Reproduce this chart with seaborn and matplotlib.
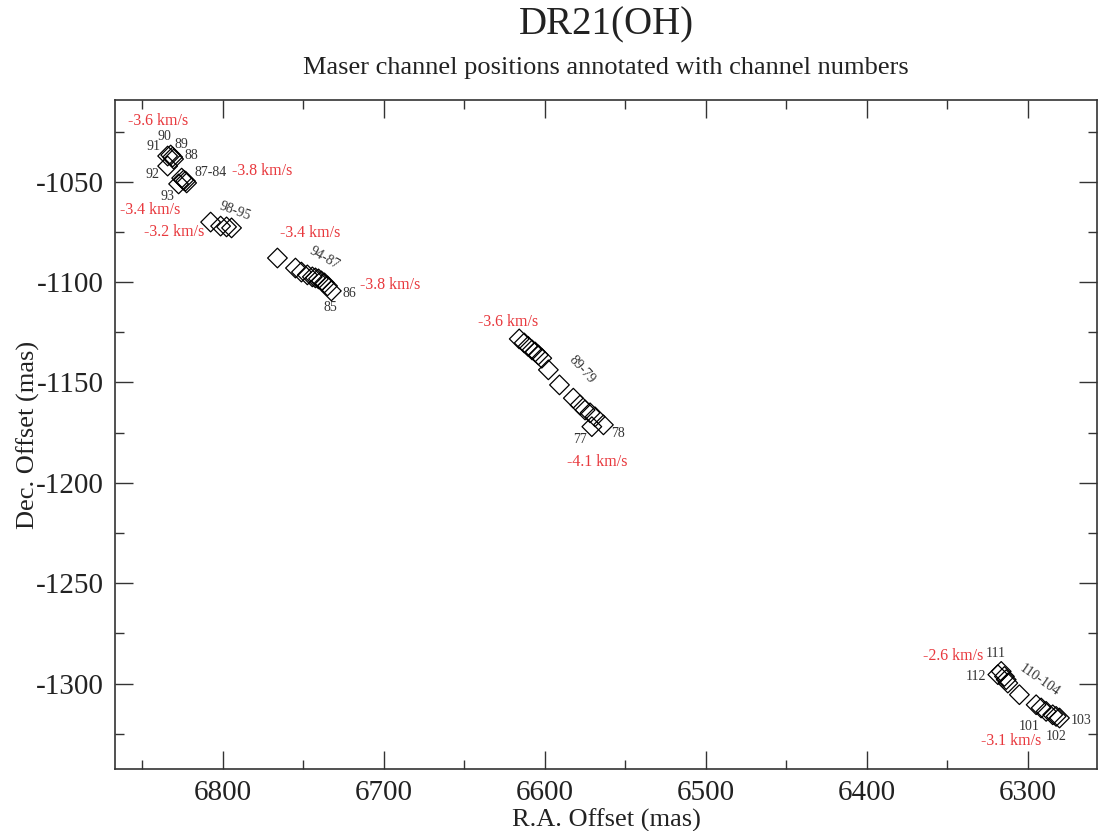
import matplotlib
matplotlib.use("Agg")
import matplotlib.pyplot as plt
import seaborn as sns
import pandas as pd
from matplotlib.ticker import MultipleLocator

# maser spot positions (mas), grouped by cluster
ra_offset = [
    6832.4, 6834.3, 6831.2, 6830.6, 6834.3,                     # ch 88-92
    6825.6, 6824.4, 6823.2, 6822.5, 6827.5,                     # ch 84-87, 93
    6807.6, 6801.4, 6797.7, 6794.6,                             # ch 95-98
    6766.1, 6754.9, 6751.2, 6747.5, 6744.4, 6742.5, 6740.6,
    6738.8, 6736.9, 6735.0, 6732.6,                             # ch 94-85
    6615.9, 6612.8, 6610.4, 6607.9, 6606.0, 6604.0, 6601.9,
    6597.8, 6590.9, 6582.3, 6578.1, 6575.0, 6571.9, 6568.8,
    6563.6, 6570.8,                                             # ch 89-77
    6316.5, 6318.6, 6314.5, 6313.4, 6312.4, 6305.2, 6294.8,
    6291.7, 6288.6, 6284.5, 6282.4, 6280.3,                     # ch 112-101
]
dec_offset = [
    -1036.7, -1037.2, -1037.7, -1038.7, -1042.2,
    -1048.2, -1049.2, -1049.7, -1050.6, -1051.1,
    -1070.1, -1072.1, -1072.5, -1073.0,
    -1088.0, -1093.0, -1095.0, -1096.4, -1097.4, -1097.9, -1098.4,
    -1099.4, -1100.4, -1101.9, -1104.4,
    -1128.3, -1130.3, -1132.0, -1133.8, -1134.8, -1136.3, -1137.9,
    -1143.7, -1151.2, -1157.8, -1161.2, -1163.7, -1165.1, -1167.1,
    -1171.1, -1172.0,
    -1293.9, -1295.5, -1296.4, -1298.0, -1299.7, -1305.5, -1310.5,
    -1312.1, -1313.8, -1315.5, -1316.3, -1317.1,
]

# channel-number annotations: text, ra, dec, rotation
chan_text = ["90", "91", "89", "88", "92", "87-84", "93", "98-95",
             "94-87", "86", "85", "89-79", "77", "78",
             "111", "112", "110-104", "101", "102", "103"]
chan_ra = [6836.6, 6842.8, 6825.8, 6819.6, 6843.8, 6807.6, 6834.5, 6792.7,
           6737.3, 6721.2, 6733.2, 6577.0, 6578.1, 6554.3,
           6319.6, 6332.0, 6292.7, 6298.9, 6282.4, 6266.9]
chan_dec = [-1027.7, -1032.6, -1031.4, -1036.7, -1046.3, -1045.3, -1057.5, -1064.9,
            -1088.1, -1105.6, -1112.5, -1143.7, -1178.6, -1175.2,
            -1285.1, -1296.4, -1298.4, -1321.3, -1326.3, -1318.3]
chan_rot = [0, 0, 0, 0, 0, 0, 0, -20,
            -30, 0, 0, -48, 0, 0,
            0, 0, -35, 0, 0, 0]

# velocity annotations
vel_text = ["-3.6 km/s", "-3.8 km/s", "-3.4 km/s", "-3.2 km/s", "-3.4 km/s",
            "-3.8 km/s", "-3.6 km/s", "-4.1 km/s", "-2.6 km/s", "-3.1 km/s"]
vel_ra = [6840.5, 6775.4, 6844.9, 6830.4, 6745.6,
          6695.8, 6622.6, 6567.7, 6346.5, 6310.3]
vel_dec = [-1019.8, -1044.7, -1064.1, -1074.9, -1075.4,
           -1101.4, -1119.7, -1189.4, -1286.1, -1328.7]

df = pd.DataFrame({"ra": ra_offset, "dec": dec_offset})

sns.set_style("ticks")
plt.rcParams["font.family"] = ["Liberation Serif", "DejaVu Serif"]
plt.rcParams["axes.unicode_minus"] = False

fig = plt.figure(figsize=(10.98, 8.31), dpi=100)
ax = fig.add_axes([115 / 1098, 1 - 769 / 831, 982 / 1098, 669 / 831])

sns.scatterplot(data=df, x="ra", y="dec", marker="D", s=100,
                facecolor="none", edgecolor="black", linewidth=0.9, ax=ax)

for t, x, y, r in zip(chan_text, chan_ra, chan_dec, chan_rot):
    ax.text(x, y, t, ha="center", va="center", rotation=r,
            fontsize=10, color="#333333")
for t, x, y in zip(vel_text, vel_ra, vel_dec):
    ax.text(x, y, t, ha="center", va="center", fontsize=11.5, color="#e8383d")

ax.set_xlim(6867, 6257)
ax.set_ylim(-1342.5, -1009.3)
ax.xaxis.set_major_locator(MultipleLocator(100))
ax.xaxis.set_minor_locator(MultipleLocator(50))
ax.yaxis.set_major_locator(MultipleLocator(50))
ax.yaxis.set_minor_locator(MultipleLocator(25))
ax.tick_params(which="both", direction="in", top=True, right=True,
               colors="#333333", labelcolor="#222222")
ax.tick_params(which="major", length=13, width=1, labelsize=21, pad=8)
ax.tick_params(which="minor", length=6.5, width=1)
for sp in ax.spines.values():
    sp.set_color("#333333")
    sp.set_linewidth(1.2)

ax.set_xlabel("R.A. Offset (mas)", fontsize=19, color="#222222", labelpad=2)
ax.set_ylabel("Dec. Offset (mas)", fontsize=19, color="#222222")
ax.yaxis.set_label_coords((40 - 115) / 982, 0.5)

cx = (115 + 1097) / 2 / 1098
fig.text(cx, 1 - 25 / 831, "DR21(OH)", ha="center", va="center",
         fontsize=28, color="#222222")
fig.text(cx, 1 - 68 / 831, "Maser channel positions annotated with channel numbers",
         ha="center", va="center", fontsize=19, color="#222222")

fig.savefig("out.png", dpi=100)
